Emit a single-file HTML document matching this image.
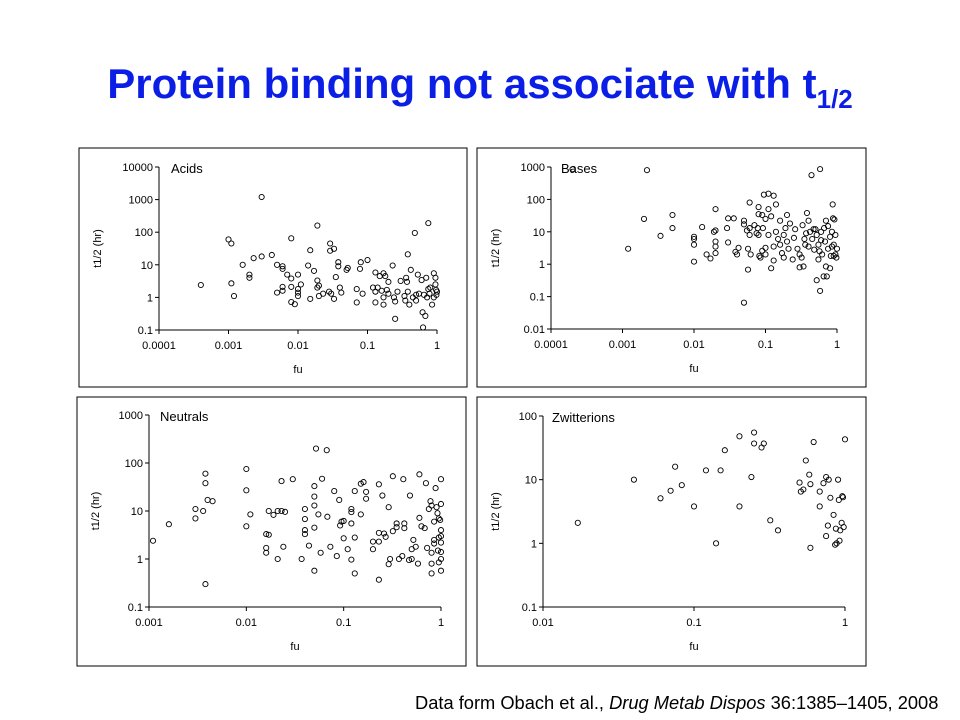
<!DOCTYPE html>
<html><head><meta charset="utf-8"><style>
body{margin:0;background:#fff;width:960px;height:720px;overflow:hidden;font-family:"Liberation Sans",sans-serif}
#title{position:absolute;left:0;width:960px;top:60px;text-align:center;color:#0a1ee6;font-weight:bold;font-size:42px}
#title sub{font-size:26px;vertical-align:-10px}
#foot{position:absolute;left:415px;top:692px;font-size:18.3px;color:#000;white-space:nowrap}
svg{position:absolute;left:0;top:0}
</style></head><body>
<div id="title">Protein binding not associate with t<sub>1/2</sub></div>
<div id="foot">Data form Obach et al., <i>Drug Metab Dispos</i> 36:1385–1405, 2008</div>
<svg id="c" width="960" height="720"></svg>
<script>
const acidsData=[[0.0004,2.4],[0.001,60],[0.0011,45],[0.0011,2.7],[0.0012,1.1],[0.0016,10],[0.002,5],[0.002,4],[0.0023,16],[0.003,1200],[0.003,18],[0.0042,20],[0.005,10],[0.005,1.4],[0.006,9],[0.006,7.5],[0.006,2.1],[0.006,1.6],[0.007,5],[0.008,65],[0.008,3.8],[0.008,2.1],[0.008,0.72],[0.009,0.62],[0.01,5],[0.01,1.8],[0.01,1.4],[0.01,1.1],[0.011,2.5],[0.014,9.5],[0.015,28],[0.015,0.9],[0.017,6.5],[0.019,160],[0.019,3.3],[0.019,2],[0.02,2.3],[0.02,1.1],[0.023,1.3],[0.028,1.5],[0.029,45],[0.029,27],[0.03,1.3],[0.033,31],[0.033,0.9],[0.035,4.2],[0.038,12],[0.038,9],[0.04,2],[0.042,1.4],[0.05,7],[0.052,8],[0.07,1.8],[0.07,0.7],[0.078,7.5],[0.08,12],[0.085,1.3],[0.1,14],[0.12,2],[0.13,5.8],[0.13,1.5],[0.13,0.7],[0.14,2],[0.15,4.5],[0.16,1.6],[0.17,5.5],[0.17,1],[0.17,0.6],[0.18,4.5],[0.19,1.7],[0.2,3],[0.2,1.3],[0.23,9.5],[0.24,1],[0.25,0.75],[0.25,0.22],[0.27,1.5],[0.3,3.2],[0.34,1.1],[0.35,0.8],[0.36,4],[0.37,3],[0.38,21],[0.38,1.5],[0.4,0.6],[0.42,7],[0.45,1],[0.48,95],[0.5,1.2],[0.5,0.8],[0.53,5],[0.55,1.3],[0.6,3.4],[0.62,0.35],[0.63,0.12],[0.65,1.2],[0.68,0.27],[0.7,4],[0.72,1],[0.75,190],[0.75,1.8],[0.78,1.3],[0.8,2],[0.85,0.6],[0.9,5.5],[0.9,1],[0.95,4],[0.95,2.5],[0.97,1.7],[0.98,1.2],[1,1.5]];
const basesData=[[0.0002,850],[0.0012,3],[0.002,25],[0.0022,800],[0.0034,7.5],[0.005,33],[0.005,13],[0.01,7],[0.01,6],[0.01,4],[0.01,1.2],[0.013,14],[0.015,2],[0.017,1.5],[0.019,10],[0.02,50],[0.02,11],[0.02,5],[0.02,3.5],[0.02,2.2],[0.029,13],[0.03,26],[0.03,4.7],[0.036,26],[0.038,2.4],[0.04,2],[0.042,3.2],[0.05,0.065],[0.05,22],[0.05,17],[0.055,11],[0.057,3],[0.057,0.68],[0.06,80],[0.06,13],[0.06,8],[0.062,2],[0.07,16],[0.075,9],[0.078,13],[0.08,58],[0.08,35],[0.08,8],[0.082,1.8],[0.085,1.6],[0.09,33],[0.09,2.6],[0.092,13],[0.095,140],[0.1,25],[0.1,3.2],[0.1,2],[0.11,150],[0.11,50],[0.11,8],[0.12,30],[0.12,0.75],[0.13,130],[0.13,3.5],[0.13,1.3],[0.14,70],[0.14,10],[0.15,6],[0.16,22],[0.16,4],[0.17,2.2],[0.18,8],[0.18,1.6],[0.19,13],[0.2,33],[0.2,5],[0.21,3],[0.22,18],[0.24,1.4],[0.25,6.5],[0.26,12],[0.28,3],[0.3,0.8],[0.3,2],[0.32,1.6],[0.33,16],[0.34,0.85],[0.35,6],[0.37,9],[0.38,38],[0.4,22],[0.4,3.5],[0.42,10],[0.44,560],[0.45,6],[0.48,2.8],[0.5,12],[0.52,0.32],[0.52,8],[0.55,4],[0.55,1.4],[0.58,860],[0.58,0.15],[0.6,10],[0.62,2],[0.65,0.42],[0.66,13],[0.68,5],[0.7,0.85],[0.7,22],[0.72,0.42],[0.75,3],[0.75,15],[0.8,7],[0.8,0.75],[0.82,1.8],[0.85,10],[0.87,70],[0.88,26],[0.9,4],[0.92,24],[0.95,8],[0.95,2],[0.98,1.6],[1,3],[0.57,2.5],[0.6,5.5],[0.47,12],[0.85,3.5],[0.9,1.8],[0.36,4]];
const neutralsData=[[0.0011,2.4],[0.0016,5.3],[0.003,11],[0.003,7],[0.0036,10],[0.0038,60],[0.0038,38],[0.0038,0.3],[0.004,17],[0.0045,16],[0.01,75],[0.01,27],[0.01,4.8],[0.011,8.5],[0.016,3.3],[0.016,1.7],[0.016,1.35],[0.017,10],[0.017,3.2],[0.019,8.3],[0.021,1],[0.021,10],[0.023,42],[0.023,10],[0.024,1.8],[0.025,9.6],[0.03,46],[0.037,1],[0.04,11],[0.04,6.8],[0.04,4],[0.04,3.3],[0.044,1.9],[0.05,33],[0.05,20],[0.05,13],[0.05,4.5],[0.05,0.57],[0.052,200],[0.055,8.5],[0.058,1.35],[0.06,47],[0.067,185],[0.068,7.6],[0.073,1.8],[0.08,26],[0.085,1.15],[0.09,17],[0.092,5],[0.095,6],[0.1,6.2],[0.1,2.7],[0.11,1.6],[0.12,11],[0.12,9.5],[0.12,5.5],[0.12,0.97],[0.13,26],[0.13,2.8],[0.13,0.5],[0.15,8.5],[0.15,37],[0.16,40],[0.17,25],[0.17,18],[0.2,2.3],[0.2,1.6],[0.23,36],[0.23,3.5],[0.23,2.3],[0.23,0.37],[0.25,21],[0.26,3.4],[0.27,2.9],[0.29,12],[0.29,0.78],[0.3,1],[0.32,53],[0.32,3.8],[0.35,5.5],[0.35,4.6],[0.37,1],[0.4,1.15],[0.41,46],[0.42,5.5],[0.42,4.4],[0.47,0.95],[0.48,21],[0.5,1.6],[0.5,1],[0.52,2.5],[0.55,1.8],[0.58,0.8],[0.6,58],[0.6,7.2],[0.63,4.8],[0.68,4.4],[0.7,38],[0.72,1.7],[0.75,11],[0.78,16],[0.8,13],[0.8,1.35],[0.8,0.8],[0.8,0.5],[0.85,6],[0.85,2.5],[0.85,2.1],[0.88,30],[0.9,12],[0.92,9],[0.93,1.5],[0.95,7],[0.95,2.8],[0.95,0.85],[0.98,6.5],[1,46],[1,14],[1,4],[1,3],[1,2.2],[1,1.4],[1,1],[1,0.57]];
const zwitterionsData=[[0.017,2.1],[0.04,10],[0.06,5.1],[0.07,6.7],[0.075,16],[0.083,8.2],[0.1,3.8],[0.12,14],[0.14,1],[0.15,14],[0.16,29],[0.2,48],[0.2,3.8],[0.24,11],[0.25,55],[0.25,37],[0.28,32],[0.29,37],[0.32,2.3],[0.36,1.6],[0.5,9],[0.51,6.5],[0.53,7],[0.55,20],[0.58,12],[0.59,8.5],[0.59,0.85],[0.62,39],[0.68,6.5],[0.68,3.8],[0.72,8.8],[0.75,11],[0.75,1.3],[0.77,1.9],[0.78,10],[0.8,5.2],[0.84,2.8],[0.86,0.95],[0.87,1.7],[0.88,1],[0.9,10],[0.91,4.8],[0.92,1.1],[0.93,1.6],[0.95,2.1],[0.97,5.3],[0.98,1.8],[1,43],[0.96,5.5]];
const acidsXTicks=["0.0001","0.001","0.01","0.1","1"];
const acidsYTicks=["0.1","1","10","100","1000","10000"];
const basesXTicks=["0.0001","0.001","0.01","0.1","1"];
const basesYTicks=["0.01","0.1","1","10","100","1000"];
const neutralsXTicks=["0.001","0.01","0.1","1"];
const neutralsYTicks=["0.1","1","10","100","1000"];
const zwitXTicks=["0.01","0.1","1"];
const zwitYTicks=["0.1","1","10","100"];

const svg=document.getElementById('c');
const NS='http://www.w3.org/2000/svg';
function mk(tag,attrs,parent){const e=document.createElementNS(NS,tag);for(const k in attrs)e.setAttribute(k,attrs[k]);parent.appendChild(e);return e;}
function panel(key,title,box,ax,xt,yt,data){
  const g=mk('g',{},svg);
  
  
  mk('rect',{x:box[0],y:box[1],width:box[2],height:box[3],fill:'#fff',stroke:'#000','stroke-width':1},g);
  const xmin=Math.log10(+xt[0]),xmax=Math.log10(+xt[xt.length-1]);
  const ymin=Math.log10(+yt[0]),ymax=Math.log10(+yt[yt.length-1]);
  const X=v=>ax.x0+(Math.log10(v)-xmin)/(xmax-xmin)*(ax.x1-ax.x0);
  const Y=v=>ax.y0-(Math.log10(v)-ymin)/(ymax-ymin)*(ax.y0-ax.y1);
  mk('line',{x1:ax.x0,y1:ax.y0,x2:ax.x1,y2:ax.y0,stroke:'#000'},g);
  mk('line',{x1:ax.x0,y1:ax.y0,x2:ax.x0,y2:ax.y1,stroke:'#000'},g);
  xt.forEach(t=>{const x=X(+t);
    mk('line',{x1:x,y1:ax.y0,x2:x,y2:ax.y0+4,stroke:'#000'},g);
    const tx=mk('text',{x:x,y:ax.y0+19,'font-size':11,'text-anchor':'middle'},g);tx.textContent=t;
    
    });
  yt.forEach(t=>{const y=Y(+t);
    mk('line',{x1:ax.x0-4,y1:y,x2:ax.x0,y2:y,stroke:'#000'},g);
    const tx=mk('text',{x:ax.x0-6,y:y+4,'font-size':11,'text-anchor':'end'},g);tx.textContent=t;
    
    });
  const xl=mk('text',{x:(ax.x0+ax.x1)/2,y:ax.y0+43,'font-size':11,'text-anchor':'middle'},g);xl.textContent='fu';
  
  
  const yl=mk('text',{x:0,y:0,'font-size':11,'text-anchor':'middle',transform:`translate(${box[0]+22},${(ax.y0+ax.y1)/2}) rotate(-90)`},g);yl.textContent='t1/2 (hr)';
  
  
  const tl=mk('text',{x:ax.x0+ax.tx,y:ax.y1+6,'font-size':13},g);tl.textContent=title;
  
  
  data.forEach(d=>{const c=mk('circle',{cx:X(d[0]),cy:Y(d[1]),r:2.6,fill:'none',stroke:'#000','stroke-width':0.9},g);
    
    });
}
panel('acids','Acids',[79,148,388,239],{x0:159,x1:437,y0:330,y1:167,tx:12},acidsXTicks,acidsYTicks,acidsData);
panel('bases','Bases',[477,148,389,239],{x0:551,x1:837,y0:329,y1:167,tx:10},basesXTicks,basesYTicks,basesData);
panel('neutrals','Neutrals',[77,397,389,269],{x0:149,x1:441,y0:607,y1:415,tx:11},neutralsXTicks,neutralsYTicks,neutralsData);
panel('zwitterions','Zwitterions',[477,397,389,269],{x0:543,x1:845,y0:607,y1:416,tx:9},zwitXTicks,zwitYTicks,zwitterionsData);
</script>
</body></html>
